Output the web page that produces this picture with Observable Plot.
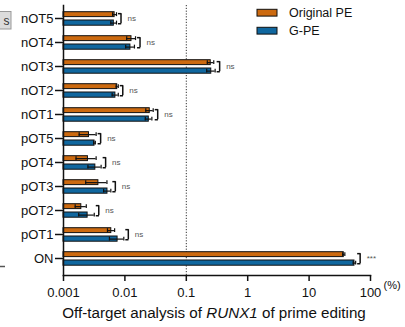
<!DOCTYPE html>
<html>
<head>
<meta charset="utf-8">
<script src="https://cdn.jsdelivr.net/npm/d3@7"></script>
<script src="https://cdn.jsdelivr.net/npm/@observablehq/plot@0.6"></script>
<style>
  html, body { margin: 0; padding: 0; background: white; }
  #chart { position: relative; width: 405px; height: 327px; }
</style>
</head>
<body>
<div id="chart"></div>
<script>
const categories = ["nOT5","nOT4","nOT3","nOT2","nOT1","pOT5","pOT4","pOT3","pOT2","pOT1","ON"];
const series = ["Original PE","G-PE"];
const originalPE = [0.0068, 0.0128, 0.25, 0.0075, 0.0254, 0.0026, 0.0025, 0.0037, 0.00195, 0.0060, 36.7];
const originalSD = [0.0005, 0.0021, 0.03, 0.0003, 0.0035, 0.0008, 0.0009, 0.0014, 0.0004, 0.0008, 1.5];
const gPE        = [0.0066, 0.0123, 0.255, 0.0070, 0.0245, 0.0032, 0.0033, 0.0052, 0.00247, 0.0076, 54.8];
const gSD        = [0.0007, 0.0020, 0.04, 0.0008, 0.0030, 0.0001, 0.0008, 0.0007, 0.0007, 0.0020, 2.5];
const significance = ["ns","ns","ns","ns","ns","ns","ns","ns","ns","ns","***"];
const xTicks = [0.001, 0.01, 0.1, 1, 10, 100];
const xTickLabels = ["0.001","0.01","0.1","1","10","100"];
const threshold = [0.1];
const colors = ["#cc6a10", "#10679f"];

const rows = categories.map((c, i) => ({
  cat: c, o: originalPE[i], os: originalSD[i], b: gPE[i], bs: gSD[i], sig: significance[i],
  xmax: Math.max(originalPE[i] + originalSD[i], gPE[i] + gSD[i])
}));

const base = xTicks[0];
const ink = "#111";

const plot = Plot.plot({
  width: 405, height: 327,
  marginLeft: 63, marginRight: 35, marginTop: 5, marginBottom: 52,
  style: { fontFamily: "'Liberation Sans', Arial, sans-serif", color: ink, background: "white" },
  x: { type: "log", domain: [xTicks[0], xTicks[xTicks.length - 1]] },
  y: { domain: categories, padding: 0, insetBottom: 5 },
  marks: [
    Plot.ruleX(threshold, { stroke: "#333", strokeWidth: 1, strokeDasharray: "1.2,1.6" }),
    // bars
    Plot.barX(rows, { y: "cat", x1: base, x2: "o", fill: colors[0], stroke: ink, strokeWidth: 1, insetTop: 5.7, insetBottom: 13.4 }),
    Plot.barX(rows, { y: "cat", x1: base, x2: "b", fill: colors[1], stroke: ink, strokeWidth: 1, insetTop: 14, insetBottom: 4.8 }),
    // error bars
    Plot.ruleY(rows, { y: "cat", x1: d => d.o - d.os, x2: d => d.o + d.os, dy: -3.85, stroke: ink, strokeWidth: 1.2 }),
    Plot.tickX(rows, { y: "cat", x: d => d.o + d.os, insetTop: 6.2, insetBottom: 13.9, stroke: ink, strokeWidth: 1.2 }),
    Plot.tickX(rows, { y: "cat", x: d => d.o - d.os, insetTop: 6.2, insetBottom: 13.9, stroke: ink, strokeWidth: 1.2 }),
    Plot.ruleY(rows, { y: "cat", x1: d => d.b - d.bs, x2: d => d.b + d.bs, dy: 4.6, stroke: ink, strokeWidth: 1.2 }),
    Plot.tickX(rows, { y: "cat", x: d => d.b + d.bs, insetTop: 14.65, insetBottom: 5.45, stroke: ink, strokeWidth: 1.2 }),
    Plot.tickX(rows, { y: "cat", x: d => d.b - d.bs, insetTop: 14.65, insetBottom: 5.45, stroke: ink, strokeWidth: 1.2 }),
    // significance brackets
    Plot.tickX(rows, { y: "cat", x: "xmax", dx: 4.5, insetTop: 7.2, insetBottom: 6.8, stroke: ink, strokeWidth: 1.5 }),
    Plot.ruleY(rows, { y: "cat", x1: "xmax", x2: "xmax", insetLeft: 2, insetRight: -5.2, dy: -4.85, stroke: ink, strokeWidth: 1.5 }),
    Plot.ruleY(rows, { y: "cat", x1: "xmax", x2: "xmax", insetLeft: 2, insetRight: -5.2, dy: 5.25, stroke: ink, strokeWidth: 1.5 }),
    Plot.text(rows, { y: "cat", x: "xmax", text: "sig", dx: 11, textAnchor: "start", fontSize: 8, fill: "#555" }),
    // axes
    Plot.frame({ anchor: "left", stroke: ink, strokeWidth: 1.5 }),
    Plot.frame({ anchor: "bottom", stroke: ink, strokeWidth: 1.5 }),
    Plot.axisY({ tickSize: 8, tickPadding: 2, fontSize: 13, strokeWidth: 1.5, label: null, fill: ink }),
    Plot.axisX({ ticks: xTicks, tickFormat: d => xTickLabels[xTicks.indexOf(d)], tickSize: 6, tickPadding: 6, fontSize: 13, strokeWidth: 1.5, label: null, fill: ink })
  ]
});

document.getElementById("chart").appendChild(plot);
const svg = d3.select(plot);
const font = "'Liberation Sans', Arial, sans-serif";

// legend
series.forEach((s, i) => {
  const y = 9.3 + i * 18;
  svg.append("rect").attr("x", 257).attr("y", y).attr("width", 20).attr("height", 6.8)
    .attr("fill", colors[i]).attr("stroke", ink).attr("stroke-width", 1);
  svg.append("text").attr("x", 289).attr("y", y + 3.6).attr("dy", "0.35em")
    .attr("text-anchor", "start")
    .attr("font-family", font).attr("font-size", 12.5).attr("fill", ink).text(s);
});

// unit
svg.append("text").attr("x", 383.5).attr("y", 285).attr("dy", "0.35em").attr("text-anchor", "start")
  .attr("font-family", font).attr("font-size", 11).attr("fill", ink).text("(%)");

// title
const t = svg.append("text").attr("x", 214).attr("y", 313).attr("dy", "0.35em")
  .attr("text-anchor", "middle").attr("font-family", font).attr("font-size", 15.2).attr("fill", ink);
t.append("tspan").text("Off-target analysis of ");
t.append("tspan").attr("font-style", "italic").text("RUNX1");
t.append("tspan").text(" of prime editing");

// cropped remnants of a neighbouring panel at the left edge
svg.append("rect").attr("x", -1).attr("y", 11.5).attr("width", 12).attr("height", 17.5)
  .attr("fill", "#dcdcdc").attr("stroke", "#999").attr("stroke-width", 1);
svg.append("text").attr("x", 9.5).attr("y", 20.5).attr("dy", "0.35em").attr("text-anchor", "end")
  .attr("font-family", font).attr("font-size", 12).attr("fill", "#333").text("s");
svg.append("line").attr("x1", 0).attr("x2", 5).attr("y1", 266.5).attr("y2", 266.5)
  .attr("stroke", "#555").attr("stroke-width", 1.5);
</script>
</body>
</html>
